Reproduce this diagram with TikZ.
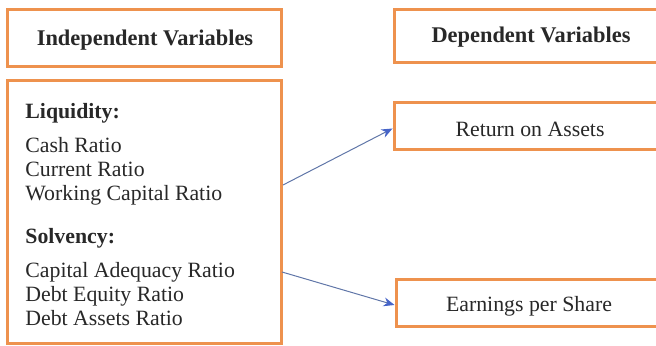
\documentclass[tikz,border=0pt]{standalone}
\usepackage{fontspec}
\setmainfont{Liberation Serif}
\usetikzlibrary{arrows.meta}
\definecolor{boxorange}{RGB}{238,146,78}
\definecolor{arrowblue}{RGB}{96,118,168}
\definecolor{tipblue}{RGB}{70,100,200}
\definecolor{txt}{RGB}{40,40,40}
\tikzset{
  obox/.style={draw=boxorange, line width=1.5pt, fill=white, inner sep=0pt},
  itemtext/.style={anchor=mid west, inner sep=0pt, text=txt, font=\fontsize{10.9}{12}\selectfont},
  headtext/.style={anchor=mid west, inner sep=0pt, text=txt, font=\fontsize{10.9}{12}\selectfont\bfseries},
  titletext/.style={inner sep=0pt, text=txt, font=\fontsize{11.2}{12}\selectfont\bfseries},
  link/.style={draw=arrowblue, line width=0.5pt, -{Stealth[length=5.5pt,width=4.5pt,fill=tipblue,color=tipblue]}}
}
\begin{document}
\begin{tikzpicture}[x=0.5pt,y=-0.5pt]
\useasboundingbox (0,0) rectangle (656,346);
\begin{scope}
\clip (0,0) rectangle (656,346);
% left column
\node[obox, minimum width=137pt, minimum height=28.5pt] (indephead) at (144,38.5) {};
\node[titletext] (indeplabel) at (145,40) {Independent Variables};
\node[obox, minimum width=137pt, minimum height=131pt] (indep) at (144,212) {};
\node[headtext] (liq) at (25,114) {Liquidity:};
\node[itemtext] (cash) at (25,148) {Cash Ratio};
\node[itemtext] (curr) at (25,172) {Current Ratio};
\node[itemtext] (work) at (25,196) {Working Capital Ratio};
\node[headtext] (solv) at (25,239) {Solvency:};
\node[itemtext] (cap) at (25,273) {Capital Adequacy Ratio};
\node[itemtext] (debteq) at (25,297) {Debt Equity Ratio};
\node[itemtext] (debtas) at (25,321) {Debt Assets Ratio};
% right column
\node[obox, minimum width=140pt, minimum height=26.5pt] (dephead) at (534,36.5) {};
\node[titletext] (deplabel) at (531,37) {Dependent Variables};
\node[obox, minimum width=140pt, minimum height=23.5pt] (roa) at (534,126.5) {};
\node[itemtext, anchor=center] (roalabel) at (530,129) {Return on Assets};
\node[obox, minimum width=139pt, minimum height=23pt] (eps) at (535,303) {};
\node[itemtext, anchor=center] (epslabel) at (529,306) {Earnings per Share};
% connectors
\coordinate (s1) at (283,185);
\coordinate (s2) at (282,272);
\draw[link] (s1) -- ([yshift=-1pt]roa.west);
\draw[link] (s2) -- ([yshift=-1pt]eps.west);
\end{scope}
\end{tikzpicture}
\end{document}
